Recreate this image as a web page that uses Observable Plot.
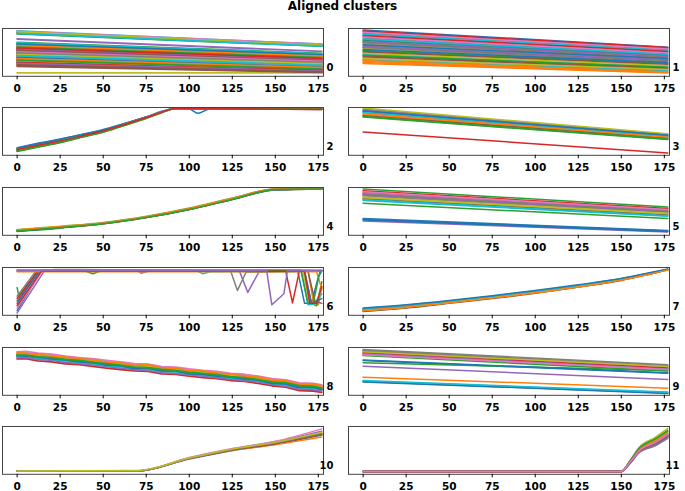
<!DOCTYPE html>
<html>
<head>
<meta charset="utf-8">
<script src="https://cdn.jsdelivr.net/npm/d3@7"></script>
<script src="https://cdn.jsdelivr.net/npm/@observablehq/plot@0.6"></script>
<style>
  body { margin: 0; background: #fff; }
  #wrap { position: relative; width: 685px; height: 491px; overflow: hidden; background: #fff; }
  #title { position: absolute; left: 0; top: 0; width: 685px; text-align: center;
           font: bold 12px "DejaVu Sans"; line-height: 12px; color: #000; }
  .cell { position: absolute; }
</style>
</head>
<body>
<div id="wrap"><div id="title">Aligned clusters</div></div>
<script>
const tab10 = ["#1f77b4","#ff7f0e","#2ca02c","#d62728","#9467bd","#8c564b","#e377c2","#7f7f7f","#bcbd22","#17becf"];
const xTicks = [0, 25, 50, 75, 100, 125, 150, 175];
const panelLabels = ["0","1","2","3","4","5","6","7","8","9","10","11"];

// straight lines: [value at x=0, value at x=177] (percent of panel height)
const straightX = [0, 177];

const p0 = [
 [55,33],[92,66],[71,48],[45,25],[78,52],[40,20],[60,38],[35,16],[7,7],[95,67],
 [65,43],[91,64],[50,30],[38,18],[62,40],[30,13],[47,27],[57,36],[26,10],[90,64],
 [52,31],[33,14],[89,63],[42,22],[28,11],[68,46],[36,17],[44,24],[23,9],[70,47],
 [48,28],[25,10],[58,37],[32,15],[53,32],[21,8],[41,21],[63,41],[31,12],[93,66],
 [67,45],[64,42],[61,39],[59,37],[56,34],[54,33],[51,31],[49,29],[46,26],[43,23],
 [39,19],[37,18],[34,15],[29,12],[27,11],[24,9],[94,67],[91,65],[93,65],[90,63]
];

const p1 = [
 [97,61],[35,11],[75,43],[53,26],[94,58],[71,41],[49,23],[90,56],[68,38],[46,20],
 [87,53],[33,10],[65,35],[43,18],[83,50],[61,33],[39,15],[80,47],[58,30],[36,12],
 [77,45],[31,9],[54,27],[95,60],[73,42],[51,25],[92,57],[70,39],[48,22],[88,54],
 [66,37],[29,8],[44,19],[85,52],[63,34],[41,16],[82,49],[60,31],[37,14],[78,46],
 [56,29],[27,7]
];

const p2x = [0, 12, 25, 37, 50, 62, 75, 84, 92, 177];
const p2 = [
 [[0,16],[12,25],[25,34],[37,43],[50,54],[62,66],[75,80],[84,91],[92,98],[100,97],[105,88],[112,97],[177,97]],
 [13,22,31,41,52,65,79,90,98,97],
 [8,17,26,37,48,62,77,89,98,97],
 [12,21,30,40,51,64,79,90,98,96],
 [11,20,29,40,51,65,80,92,98,97],
 [10,19,28,39,50,64,79,90,98,97],
 [12,21,30,41,52,65,80,91,98,97],
 [11,20,30,40,51,64,79,90,98,97],
 [13,22,31,41,52,65,79,90,98,97],
 [14,23,32,42,53,65,80,90,98,97],
 [15,24,33,43,53,66,80,91,98,97],
 [11,20,29,39,50,64,79,90,98,97],
 [9,18,27,38,49,63,78,90,98,97],
 [12,21,30,40,51,64,79,90,98,96]
];

const p3 = [
 [92,41],[85,37],[80,33],[49,5],[89,39],[83,36],[95,43],[97,44],[99,45],[90,40],
 [93,42],[87,38],[81,34]
];

const p4x = [0, 25, 50, 75, 100, 125, 150, 177];
const p4 = [
 [10,17,25,38,55,76,96,97],
 [11,18,26,39,56,77,96,97],
 [8,15,24,37,54,75,95,97],
 [10,17,25,38,55,76,96,97],
 [11,18,26,39,56,77,97,97],
 [9,16,24,37,54,75,95,97],
 [10,17,25,38,55,76,96,97],
 [11,18,26,38,55,76,96,97],
 [12,19,27,40,57,78,97,97],
 [10,17,26,39,56,77,96,97],
 [9,16,25,38,55,76,96,97],
 [11,18,26,39,56,77,97,97],
 [9,16,24,37,54,75,96,97]
];

const p5 = [
 [33,9],[84,49],[97,59],[90,54],[30,7],[86,50],[88,52],[82,47],[80,46],[73,40],
 [35,10],[78,44],[67,35],[93,56],[85,50],[76,43],[91,54],[87,51],[79,45],[75,41],
 [32,8]
];

const p6 = [
 [[0,10],[14,93],[163,93],[167,25],[171,25],[175,80],[177,93]],
 [[0,94],[169,94],[172,30],[175,22],[177,60]],
 [[0,58],[1,40],[12,92],[40,92],[44,87],[48,92],[167,92],[171,25],[174,20],[177,70]],
 [[0,35],[12,93],[156,93],[160,26],[164,93],[177,93]],
 [[0,5],[16,94],[70,94],[72,88],[76,92],[129,94],[134,48],[141,94],[177,94]],
 [[0,30],[13,92],[169,92],[173,30],[177,25]],
 [[0,15],[15,95],[177,95]],
 [[0,40],[11,93],[22,96],[35,96],[124,93],[128,52],[133,90],[177,93]],
 [[0,94],[166,94],[170,25],[173,24],[177,55]],
 [[0,92],[105,92],[108,87],[112,91],[165,92],[169,22],[173,24],[177,45]],
 [[0,25],[13,93],[167,93],[171,25],[177,35]],
 [[0,91],[174,91],[177,55]],
 [[0,94],[165,94],[169,25],[172,25],[176,93],[177,93]],
 [[0,20],[14,92],[167,92],[170,25],[174,25],[177,60]],
 [[0,93],[145,93],[148,22],[155,45],[157,93],[177,93]]
];

const p7x = [0, 25, 50, 75, 100, 125, 150, 165, 177];
const p7 = [
 [13,20,29,39,50,62,76,87,96],
 [9,16,26,36,47,59,74,85,96],
 [11,18,28,38,49,61,75,86,96],
 [10,17,27,37,48,60,75,86,96],
 [12,19,29,39,50,62,76,87,96],
 [8,15,25,35,46,59,73,85,95],
 [11,18,28,38,49,61,75,86,96],
 [12,19,28,38,49,61,75,86,96],
 [10,17,27,37,48,60,75,86,96],
 [14,21,30,40,51,63,77,87,96],
 [15,22,31,41,52,64,77,88,97],
 [10,17,26,36,47,59,74,85,95]
];

const p8x = [0,5,12,20,28,36,45,52,60,68,76,84,92,100,108,116,124,132,140,148,156,164,172,177];
const p8 = [
 [82,83,79,77,73,71,67,64,61,57,56,52,50,46,43,41,37,35,31,26,23,17,16,13],
 [88,89,85,83,79,77,73,70,67,63,63,58,56,52,50,47,44,41,37,33,29,24,23,20],
 [85,86,82,80,77,74,70,67,64,61,59,55,53,49,46,44,40,38,34,29,27,21,20,17],
 [76,77,72,70,66,64,60,57,54,51,50,45,44,40,37,35,31,29,25,20,17,10,9,6],
 [79,79,75,73,69,67,63,60,57,54,52,48,46,43,40,37,34,31,28,23,19,13,12,9],
 [83,84,80,77,74,71,68,65,61,58,57,53,51,47,44,42,38,36,32,27,24,18,17,14],
 [91,92,88,86,82,79,76,73,70,66,65,60,59,55,52,50,46,44,40,35,32,26,25,22],
 [84,85,81,78,75,72,69,66,62,58,58,54,52,48,45,43,39,37,33,28,25,19,18,16],
 [86,87,83,81,77,75,71,68,65,61,60,56,54,50,47,45,41,39,35,30,27,22,21,18],
 [81,82,78,75,72,69,66,62,60,56,55,50,49,45,42,40,36,34,30,25,22,16,15,12],
 [83,82,80,76,74,70,68,63,62,56,57,51,51,45,44,40,38,34,32,25,24,16,17,12],
 [89,87,86,82,80,76,74,69,68,62,64,57,57,51,51,46,45,40,38,32,30,23,24,19],
 [84,84,81,79,75,73,69,66,63,59,58,54,52,48,46,43,39,37,33,28,26,20,19,15]
];

const p9 = [
 [73,46],[38,15],[68,52],[29,5],[61,33],[86,55],[90,58],[96,64],[93,61],[30,6],
 [28,4],[85,53],[83,51],[89,57],[87,55],[92,60],[85,54],[94,62],[91,60],[31,7],
 [74,47]
];

const p10x = [0, 70, 100, 125, 150, 177];
const p10 = [
 [7,7,32,50,63,82],
 [7,7,33,50,62,78],
 [7,7,34,52,66,86],
 [7,7,33,51,65,84],
 [7,7,34,53,68,90],
 [7,7,33,51,64,83],
 [7,7,35,54,69,95],
 [7,7,33,52,66,86],
 [7,8,34,53,67,88]
];

const p11x = [0, 150, 155, 160, 170, 177];
const p11 = [
 [6,6,24,47,64,80],
 [6,6,26,50,70,85],
 [6,6,27,52,74,90],
 [6,6,25,48,67,83],
 [6,6,23,45,62,77],
 [6,6,24,46,64,80],
 [6,6,25,48,66,82],
 [6,6,22,44,60,75],
 [6,6,28,55,78,96],
 [6,6,26,50,70,86],
 [6,6,24,46,65,81],
 [6,6,27,51,71,87],
 [6,6,28,53,75,92],
 [6,6,25,47,66,82],
 [6,6,23,45,63,78],
 [6,6,24,47,65,80],
 [6,6,25,48,67,83]
];

function toRows(knots, lines) {
  const rows = [];
  lines.forEach((ln, k) => {
    ln.forEach((v, j) => {
      if (Array.isArray(v)) rows.push({k, x: v[0], y: v[1]});
      else rows.push({k, x: knots[j], y: v});
    });
  });
  return rows;
}

const panels = [
  {knots: straightX, lines: p0, curve: "linear", sw: 1.8},
  {knots: straightX, lines: p1, curve: "linear", sw: 1.5},
  {knots: p2x, lines: p2, curve: "monotone-x", sw: 1.5},
  {knots: straightX, lines: p3, curve: "linear", sw: 1.5},
  {knots: p4x, lines: p4, curve: "monotone-x", sw: 1.5},
  {knots: straightX, lines: p5, curve: "linear", sw: 1.5},
  {knots: null, lines: p6, curve: "linear", sw: 1.5},
  {knots: p7x, lines: p7, curve: "monotone-x", sw: 1.5},
  {knots: p8x, lines: p8, curve: "linear", sw: 1.8},
  {knots: straightX, lines: p9, curve: "linear", sw: 1.5},
  {knots: p10x, lines: p10, curve: "monotone-x", sw: 1.5},
  {knots: p11x, lines: p11, curve: "monotone-x", sw: 1.5}
];

const wrap = document.getElementById("wrap");
const rowTop0 = 27.7, rowStep = 79.7, frameH = 47.8, mTop = 4, mBottom = 24;

panels.forEach((p, i) => {
  const col = i % 2, row = Math.floor(i / 2);
  const W = col === 0 ? 343 : 342;
  const mL = col === 0 ? 2 : 5;
  const mR = W - mL - 321;
  const rows = toRows(p.knots, p.lines);
  const chart = Plot.plot({
    width: W,
    height: mTop + frameH + mBottom,
    marginTop: mTop,
    marginBottom: mBottom,
    marginLeft: mL,
    marginRight: mR,
    x: {domain: [-8.5, 178], label: null},
    y: {domain: [0, 100], axis: null},
    color: {type: "ordinal", domain: d3.range(10), range: tab10},
    style: {fontFamily: "DejaVu Sans", fontSize: "10.5px", fontWeight: "bold",
            background: "transparent", overflow: "visible", color: "#000"},
    marks: [
      Plot.line(rows, {x: "x", y: "y", z: "k", stroke: d => d.k % 10,
                       strokeWidth: p.sw, curve: p.curve}),
      Plot.frame({stroke: "#444", strokeWidth: 1}),
      Plot.axisX({ticks: xTicks, tickSize: 3.5, tickPadding: 4.5, label: null,
                  tickFormat: d => String(d), fontSize: 10.5, fontWeight: "bold"}),
      Plot.text([panelLabels[i]], {frameAnchor: "bottom-right", text: d => d,
                  dx: 10, dy: -9, textAnchor: "end", lineAnchor: "middle",
                  fontSize: 10, fontWeight: "bold", fill: "#000"})
    ]
  });
  const div = document.createElement("div");
  div.className = "cell";
  div.style.left = (col === 0 ? 0 : 343) + "px";
  div.style.top = (rowTop0 + rowStep * row - mTop) + "px";
  div.appendChild(chart);
  wrap.appendChild(div);
});
</script>
</body>
</html>
